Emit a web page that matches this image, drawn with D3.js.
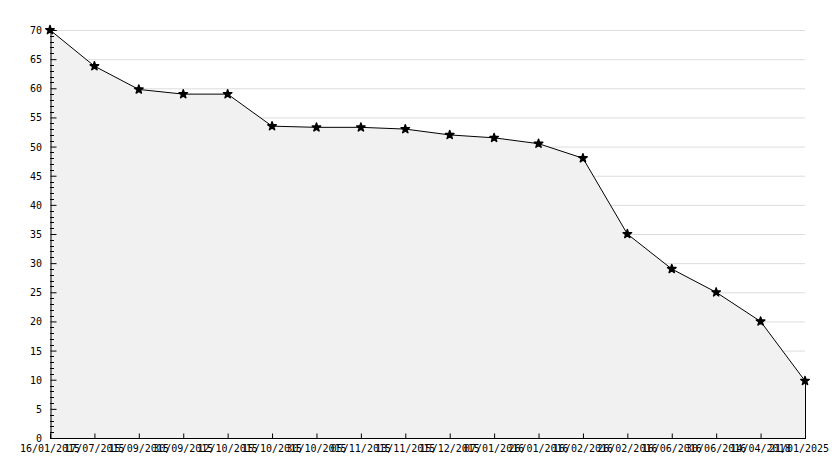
<!DOCTYPE html>
<html><head><meta charset="utf-8">
<script src="https://cdn.jsdelivr.net/npm/d3@7"></script>
<style>body{margin:0;background:#fff}svg{display:block}</style>
</head><body>
<svg id="c" width="834" height="468"></svg>
<script>
const categories = ["16/01/2015","17/07/2015","15/09/2015","30/09/2015","12/10/2015","15/10/2015","30/10/2015","05/11/2015","13/11/2015","15/12/2015","07/01/2016","26/01/2016","16/02/2016","26/02/2016","16/06/2016","30/06/2016","14/04/2018","21/01/2025"];
const values = [70, 63.8, 59.8, 59, 59, 53.5, 53.3, 53.3, 53, 52, 51.5, 50.5, 48, 35, 29, 25, 20, 9.8];
const yTicks = [0,5,10,15,20,25,30,35,40,45,50,55,60,65,70];

const svg = d3.select("#c");
const L = 50, R = 805, T = 30, B = 438;
const x = d3.scalePoint().domain(categories).range([L, R]);
const y = d3.scaleLinear().domain([0, 70]).range([B, T]);
const font = "DejaVu Sans Mono, monospace";

// gridlines
svg.append("g").selectAll("line").data(yTicks.filter(d => d > 0)).join("line")
  .attr("x1", L).attr("x2", R).attr("y1", d => y(d) + 0.5).attr("y2", d => y(d) + 0.5)
  .attr("stroke", "#dcdcdc").attr("stroke-width", 1);

// area
const area = d3.area().x((d, i) => x(categories[i])).y0(B).y1(d => y(d));
svg.append("path").datum(values).attr("d", area).attr("fill", "#f1f1f1").attr("stroke", "none");
const lastX = x(categories[categories.length-1]);
svg.append("line").attr("x1", lastX + 0.5).attr("x2", lastX + 0.5)
  .attr("y1", y(values[values.length-1])).attr("y2", B).attr("stroke", "#000");

// line
const line = d3.line().x((d, i) => x(categories[i])).y(d => y(d));
svg.append("path").datum(values).attr("d", line).attr("fill", "none").attr("stroke", "#000").attr("stroke-width", 1);

// y axis
const yAxis = d3.axisRight(y).tickValues(yTicks).tickSize(6).tickFormat("");
const ga = svg.append("g").attr("transform", `translate(${L + 0.5},0)`).call(yAxis);
ga.select(".domain").attr("stroke", "#000");
ga.selectAll("line").attr("stroke", "#000");
const minor = d3.range(0, 71).filter(d => d % 5 !== 0);
svg.append("g").selectAll("line").data(minor).join("line")
  .attr("x1", L).attr("x2", L + 4).attr("y1", d => Math.round(y(d)) + 0.5).attr("y2", d => Math.round(y(d)) + 0.5)
  .attr("stroke", "#000");
svg.append("g").selectAll("text").data(yTicks).join("text")
  .attr("x", L - 8).attr("y", d => y(d) + 4).attr("text-anchor", "end")
  .attr("font-family", font).attr("font-size", 10).attr("fill", "#000").text(d => d);

// x axis
const xAxis = d3.axisTop(x).tickSize(5).tickFormat("");
const gx = svg.append("g").attr("transform", `translate(0,${B + 0.5})`).call(xAxis);
gx.select(".domain").attr("stroke", "#000").attr("d", `M${L},0H${R + 1}`);
gx.selectAll("line").attr("stroke", "#000");
svg.append("g").selectAll("text").data(categories).join("text")
  .attr("x", (d, i) => i === categories.length - 1 ? x(d) - 6 : x(d)).attr("y", B + 14).attr("text-anchor", "middle")
  .attr("font-family", font).attr("font-size", 10).attr("fill", "#000").text(d => d);

// markers
svg.append("g").selectAll("path").data(values).join("path")
  .attr("transform", (d, i) => `translate(${x(categories[i])},${y(d)})`)
  .attr("d", d3.symbol().type(d3.symbolStar).size(22))
  .attr("fill", "#000").attr("stroke", "#000").attr("stroke-width", 1.5).attr("stroke-linejoin", "round");
</script>
</body></html>
